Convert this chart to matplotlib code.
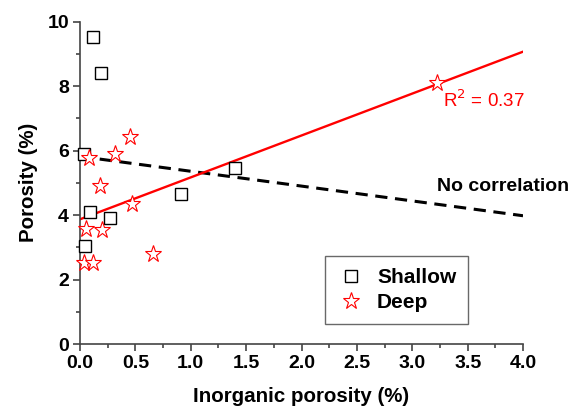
import matplotlib.pyplot as plt
from matplotlib.ticker import MultipleLocator
import numpy as np

plt.rcParams['font.family'] = ['Liberation Sans', 'DejaVu Sans']

# Shallow samples (inorganic porosity, porosity)
shallow_x = [0.12, 0.19, 0.04, 0.09, 0.27, 0.045, 0.91, 1.40]
shallow_y = [9.52, 8.41, 5.89, 4.09, 3.90, 3.05, 4.67, 5.47]

# Deep samples
deep_x = [0.08, 0.32, 0.45, 0.18, 0.47, 0.054, 0.20, 0.04, 0.12, 0.66, 3.22]
deep_y = [5.77, 5.90, 6.41, 4.89, 4.35, 3.56, 3.54, 2.51, 2.51, 2.80, 8.10]

# fit lines: intercept, slope
deep_fit = (3.87, 1.30)
shallow_trend = (5.82, -0.46)

fig = plt.figure(figsize=(5.69, 4.15), dpi=100)
ax = fig.add_axes([0.1406, 0.171, 0.7786, 0.7767])

xs = np.array([0.0, 4.0])
ax.plot(xs, shallow_trend[0] + shallow_trend[1] * xs, color='black', lw=2.2,
        dashes=(4, 2.5), zorder=2)
ax.plot(xs, deep_fit[0] + deep_fit[1] * xs, color='red', lw=1.7, zorder=2)

ax.plot(shallow_x, shallow_y, 's', ms=8, mfc='white', mec='black', mew=1,
        ls='none', label='Shallow', zorder=3, clip_on=False)
ax.plot(deep_x, deep_y, '*', ms=12.5, mfc='white', mec='red', mew=0.8,
        ls='none', label='Deep', zorder=3, clip_on=False)

ax.set_xlim(0, 4.0)
ax.set_ylim(0, 10)
ax.xaxis.set_major_locator(MultipleLocator(0.5))
ax.xaxis.set_minor_locator(MultipleLocator(0.25))
ax.yaxis.set_major_locator(MultipleLocator(2))
ax.yaxis.set_minor_locator(MultipleLocator(1))
ax.xaxis.set_major_formatter(plt.FormatStrFormatter('%.1f'))

for s in ['top', 'right']:
    ax.spines[s].set_visible(False)
for s in ['left', 'bottom']:
    ax.spines[s].set_color('#444444')
    ax.spines[s].set_linewidth(1.2)

ax.tick_params(which='major', direction='out', length=5, width=1.2,
               color='#444444', labelsize=14, pad=3)
ax.tick_params(which='minor', direction='out', length=3, width=1.2,
               color='#444444')
for lbl in ax.get_xticklabels() + ax.get_yticklabels():
    lbl.set_fontweight('bold')

ax.set_xlabel('Inorganic porosity (%)', fontsize=14.8, fontweight='bold', labelpad=11)
ax.set_ylabel('Porosity (%)', fontsize=14.8, fontweight='bold', labelpad=7)

ax.text(3.28, 7.35, 'R$^2$ = 0.37', color='red', fontsize=13.5)
ax.text(3.22, 4.75, 'No correlation', color='black', fontsize=14,
        fontweight='bold')

leg = ax.legend(loc='upper left', bbox_to_anchor=(0.553, 0.272),
                borderaxespad=0, frameon=True, fancybox=False,
                edgecolor='#444444', prop={'weight': 'bold', 'size': 15},
                handletextpad=0.55, borderpad=0.55, labelspacing=0.3,
                handlelength=1.4)
leg.get_frame().set_linewidth(1.0)

fig.savefig('out.png', dpi=100)
